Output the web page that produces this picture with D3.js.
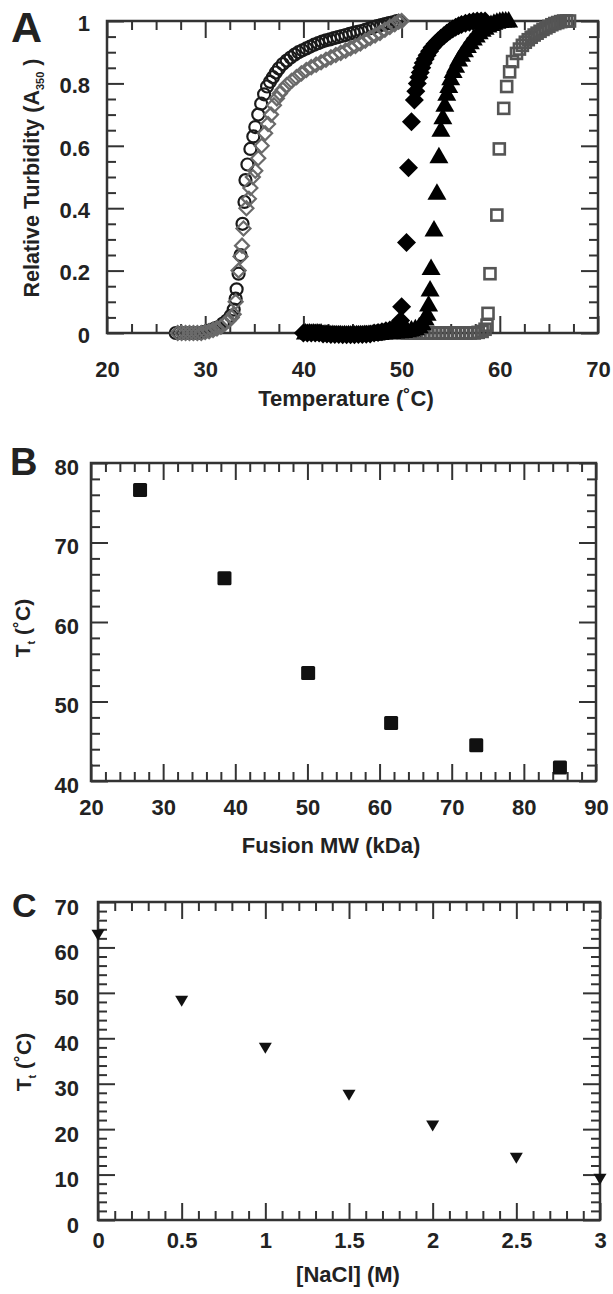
<!DOCTYPE html>
<html><head><meta charset="utf-8">
<script src="https://cdn.jsdelivr.net/npm/d3@7"></script>
<style>
body{margin:0;background:#fff}
svg{display:block;background:#fff}
text{font-family:"Liberation Sans",Arial,Helvetica,sans-serif;font-weight:bold;fill:#222}
</style>
</head><body>
<svg id="chart" width="613" height="1294"></svg>
<script>
// ---------- Panel A data: [temperature °C, relative turbidity] ----------
const openCircles = [[27.0,0],[27.4,0],[27.8,0],[28.2,0],[28.6,0],[29.0,0],[29.4,0],[29.8,0.003],[30.2,0.006],[30.6,0.01],[31.0,0.015],[31.4,0.02],[31.8,0.03],[32.2,0.04],[32.6,0.055],[32.9,0.075],[33.1,0.11],[33.2,0.14],[33.4,0.19],[33.6,0.25],[33.8,0.35],[34.0,0.42],[34.1,0.49],[34.3,0.54],[34.6,0.59],[34.9,0.63],[35.1,0.66],[35.4,0.70],[35.7,0.735],[36.0,0.765],[36.3,0.79],[36.6,0.805],[36.9,0.82],[37.2,0.835],[37.5,0.848],[37.9,0.862],[38.3,0.873],[38.7,0.883],[39.1,0.892],[39.5,0.9],[39.9,0.906],[40.3,0.912],[40.7,0.918],[41.1,0.924],[41.5,0.929],[41.9,0.934],[42.3,0.938],[42.7,0.941],[43.1,0.945],[43.5,0.948],[43.9,0.952],[44.3,0.955],[44.7,0.959],[45.1,0.962],[45.5,0.965],[45.9,0.968],[46.3,0.972],[46.7,0.976],[47.1,0.98],[47.5,0.984],[47.9,0.987],[48.3,0.99],[48.7,0.993],[49.1,0.996],[49.5,1.0],[49.8,1.0]];
const openDiamonds = [[27.2,0],[27.6,0],[28.0,0],[28.4,0],[28.8,0],[29.2,0],[29.6,0],[30.0,0.003],[30.4,0.006],[30.8,0.01],[31.2,0.015],[31.6,0.02],[32.0,0.03],[32.4,0.04],[32.7,0.05],[32.9,0.06],[33.1,0.1],[33.4,0.2],[33.6,0.245],[33.75,0.28],[33.9,0.335],[34.2,0.40],[34.45,0.43],[34.6,0.465],[34.85,0.5],[35.1,0.52],[35.4,0.56],[35.75,0.60],[36.1,0.64],[36.4,0.67],[36.7,0.70],[37.0,0.73],[37.3,0.752],[37.6,0.768],[37.9,0.78],[38.3,0.795],[38.8,0.808],[39.3,0.82],[39.8,0.832],[40.3,0.843],[40.8,0.852],[41.3,0.86],[41.8,0.868],[42.3,0.876],[42.8,0.884],[43.3,0.891],[43.8,0.898],[44.3,0.905],[44.8,0.913],[45.3,0.92],[45.8,0.928],[46.3,0.937],[46.8,0.946],[47.3,0.954],[47.8,0.962],[48.3,0.972],[48.8,0.981],[49.3,0.99],[49.7,0.998],[50.0,1.0]];
const filledDiamonds = [[40.0,0],[40.4,0],[40.8,0],[41.2,0],[41.6,0],[42.0,-0.003],[42.4,-0.003],[42.8,-0.005],[43.2,-0.005],[43.6,-0.005],[44.0,-0.006],[44.4,-0.006],[44.8,-0.006],[45.2,-0.006],[45.6,-0.005],[46.0,-0.005],[46.4,-0.004],[46.8,-0.003],[47.2,0],[47.6,0.002],[48.0,0.004],[48.4,0.007],[48.8,0.01],[49.2,0.015],[49.6,0.025],[49.9,0.04],[50.0,0.084],[50.5,0.29],[50.7,0.53],[51.0,0.677],[51.3,0.747],[51.45,0.775],[51.6,0.80],[51.75,0.82],[51.9,0.835],[52.05,0.85],[52.2,0.865],[52.4,0.878],[52.6,0.89],[52.85,0.903],[53.1,0.915],[53.4,0.926],[53.7,0.936],[54.0,0.945],[54.3,0.953],[54.6,0.961],[54.9,0.968],[55.2,0.974],[55.5,0.98],[55.8,0.985],[56.1,0.989],[56.5,0.993],[56.9,0.996],[57.3,0.998],[57.7,1.0],[58.1,1.0],[58.5,1.0]];
const filledTriangles = [[40.2,0],[40.6,0],[41.0,0],[41.4,0],[41.8,0],[42.2,-0.003],[42.6,-0.004],[43.0,-0.005],[43.4,-0.006],[43.8,-0.006],[44.2,-0.006],[44.6,-0.006],[45.0,-0.006],[45.4,-0.006],[45.8,-0.006],[46.2,-0.005],[46.6,-0.005],[47.0,-0.004],[47.4,-0.003],[47.8,-0.002],[48.2,0],[48.6,0],[49.0,0.002],[49.4,0.003],[49.8,0.004],[50.2,0.005],[50.6,0.007],[51.0,0.01],[51.4,0.014],[51.8,0.02],[52.1,0.03],[52.4,0.045],[52.6,0.06],[52.75,0.09],[52.9,0.138],[53.0,0.207],[53.3,0.33],[53.6,0.448],[53.8,0.565],[54.0,0.65],[54.2,0.69],[54.4,0.73],[54.6,0.765],[54.8,0.79],[55.0,0.815],[55.25,0.838],[55.5,0.855],[55.8,0.875],[56.1,0.89],[56.4,0.905],[56.7,0.918],[57.0,0.93],[57.3,0.942],[57.6,0.952],[57.9,0.962],[58.2,0.97],[58.5,0.977],[58.8,0.984],[59.1,0.989],[59.4,0.993],[59.7,0.996],[60.0,0.998],[60.3,1.0],[60.6,1.0],[60.9,1.0]];
const openSquares = [[50.2,0],[50.6,0],[51.0,0],[51.4,0],[51.8,0],[52.2,0],[52.6,0],[53.0,0],[53.4,0],[53.8,0],[54.2,0],[54.6,0],[55.0,0],[55.4,0],[55.8,0],[56.2,0],[56.6,0],[57.0,0],[57.4,0],[57.8,0.002],[58.2,0.005],[58.5,0.012],[58.7,0.025],[58.8,0.063],[59.0,0.19],[59.7,0.378],[59.95,0.59],[60.4,0.72],[60.7,0.79],[61.0,0.837],[61.3,0.87],[61.7,0.896],[62.0,0.91],[62.3,0.922],[62.6,0.932],[62.9,0.94],[63.2,0.948],[63.5,0.955],[63.8,0.961],[64.1,0.967],[64.4,0.973],[64.7,0.978],[65.0,0.983],[65.3,0.988],[65.6,0.992],[65.9,0.995],[66.2,0.998],[66.5,1.0],[66.8,1.0],[67.1,1.0]];
const aXTicks = [20,30,40,50,60,70];
const aXLabels = ["20","30","40","50","60","70"];
const aYTicks = [0,0.2,0.4,0.6,0.8,1];
const aYLabels = ["0","0.2","0.4","0.6","0.8","1"];

// ---------- Panel B data ----------
const fusionMW = [26.8, 38.5, 50.1, 61.6, 73.4, 85.0];
const ttByMW   = [76.6, 65.5, 53.6, 47.3, 44.5, 41.7];
const bXTicks = [20,30,40,50,60,70,80,90];
const bXLabels = ["20","30","40","50","60","70","80","90"];
const bYTicks = [40,50,60,70,80];
const bYLabels = ["40","50","60","70","80"];

// ---------- Panel C data ----------
const nacl    = [0, 0.5, 1, 1.5, 2, 2.5, 3];
const ttByNaCl = [62.9, 48.4, 38.0, 27.7, 20.9, 13.8, 9.2];
const cXTicks = [0,0.5,1,1.5,2,2.5,3];
const cXLabels = ["0","0.5","1","1.5","2","2.5","3"];
const cYTicks = [0,10,20,30,40,50,60,70];
const cYLabels = ["0","10","20","30","40","50","60","70"];

const svg = d3.select("#chart");
const AXIS = "#333";

function panel(cfg) {
  const W = cfg.right - cfg.left, H = cfg.bottom - cfg.top;
  const g = svg.append("g").attr("transform", `translate(${cfg.left},${cfg.top})`);
  const x = d3.scaleLinear().domain(cfg.xDomain).range([0, W]);
  const y = d3.scaleLinear().domain(cfg.yDomain).range([H, 0]);
  const MAJ = 17, MIN = 9;
  const style = s => s.call(a => a.select(".domain").remove())
      .call(a => a.selectAll("line").attr("stroke", AXIS).attr("stroke-width", 2));
  // minor ticks
  g.append("g").attr("transform", `translate(0,${H})`).call(d3.axisBottom(x).tickValues(cfg.xMinor).tickSize(-MIN).tickFormat("")).call(style);
  g.append("g").call(d3.axisTop(x).tickValues(cfg.xMinor).tickSize(-MIN).tickFormat("")).call(style);
  g.append("g").call(d3.axisLeft(y).tickValues(cfg.yMinor).tickSize(-MIN).tickFormat("")).call(style);
  g.append("g").attr("transform", `translate(${W},0)`).call(d3.axisRight(y).tickValues(cfg.yMinor).tickSize(-MIN).tickFormat("")).call(style);
  // major ticks
  const bx = g.append("g").attr("transform", `translate(0,${H})`)
    .call(d3.axisBottom(x).tickValues(cfg.xTicks).tickSize(-MAJ).tickPadding(cfg.xPad).tickFormat((d,i)=>cfg.xLabels[i])).call(style);
  g.append("g").call(d3.axisTop(x).tickValues(cfg.xTicks).tickSize(-MAJ).tickFormat("")).call(style);
  const ly = g.append("g")
    .call(d3.axisLeft(y).tickValues(cfg.yTicks).tickSize(-MAJ).tickPadding(cfg.yPad).tickFormat((d,i)=>cfg.yLabels[i])).call(style);
  g.append("g").attr("transform", `translate(${W},0)`).call(d3.axisRight(y).tickValues(cfg.yTicks).tickSize(-MAJ).tickFormat("")).call(style);
  bx.selectAll("text").attr("font-size", cfg.fs).attr("fill", "#222");
  ly.selectAll("text").attr("font-size", cfg.fs).attr("fill", "#222").attr("dy", cfg.yDy);
  // frame
  g.append("rect").attr("width", W).attr("height", H).attr("fill", "none").attr("stroke", AXIS).attr("stroke-width", 2.5);
  return {g, x, y, W, H};
}

// ---------------- Panel A ----------------
const A = panel({left:107, right:598, top:21, bottom:333, xDomain:[20,70], yDomain:[0,1],
  xTicks:aXTicks, xLabels:aXLabels, yTicks:aYTicks, yLabels:aYLabels,
  xMinor:d3.range(22.5,70,2.5).filter(v=>v%10!==0),
  yMinor:d3.range(1,20).filter(i=>i%4!==0).map(i=>i/20),
  xPad:28, yPad:17, yDy:"0.42em", fs:22});

A.g.append("g").selectAll("circle").data(openCircles).join("circle")
  .attr("cx", d=>A.x(d[0])).attr("cy", d=>A.y(d[1])).attr("r", 6)
  .attr("fill", "none").attr("stroke", "#1a1a1a").attr("stroke-width", 2.2);
const diamondPath = (cx, cy, s) => `M${cx},${cy-s}L${cx+s},${cy}L${cx},${cy+s}L${cx-s},${cy}Z`;
A.g.append("g").selectAll("path").data(openDiamonds).join("path")
  .attr("d", d=>diamondPath(A.x(d[0]), A.y(d[1]), 7))
  .attr("fill", "none").attr("stroke", "#6a6a6a").attr("stroke-width", 2.2);
A.g.append("g").selectAll("rect").data(openSquares).join("rect")
  .attr("x", d=>A.x(d[0])-5.5).attr("y", d=>A.y(d[1])-5.5).attr("width", 11).attr("height", 11)
  .attr("fill", "none").attr("stroke", "#555").attr("stroke-width", 2.6);
A.g.append("g").selectAll("path").data(filledDiamonds).join("path")
  .attr("d", d=>diamondPath(A.x(d[0]), A.y(d[1]), 9.5)).attr("fill", "#000");
A.g.append("g").selectAll("path").data(filledTriangles).join("path")
  .attr("d", d=>{const cx=A.x(d[0]), cy=A.y(d[1]); return `M${cx},${cy-10}L${cx+9.5},${cy+6.5}L${cx-9.5},${cy+6.5}Z`;})
  .attr("fill", "#000");

svg.append("text").attr("x", 11).attr("y", 42).attr("font-size", 43).text("A");
svg.append("text").attr("x", 346).attr("y", 406).attr("font-size", 22).attr("text-anchor", "middle").text("Temperature (˚C)");
const aYT = svg.append("text").attr("transform", "translate(39,178) rotate(-90)").attr("text-anchor", "middle").attr("font-size", 21.5);
aYT.append("tspan").text("Relative Turbidity (A");
aYT.append("tspan").attr("font-size", 11).attr("dy", 5).text("350");
aYT.append("tspan").attr("dy", -5).text(" )");

// ---------------- Panel B ----------------
const B = panel({left:91, right:596, top:463, bottom:781, xDomain:[20,90], yDomain:[40,80],
  xTicks:bXTicks, xLabels:bXLabels, yTicks:bYTicks, yLabels:bYLabels,
  xMinor:d3.range(22,90,2).filter(v=>v%10!==0), yMinor:d3.range(42,80,2).filter(v=>v%10!==0),
  xPad:18, yPad:12, yDy:"0.5em", fs:22});
B.g.append("g").selectAll("rect").data(fusionMW).join("rect")
  .attr("x", (d,i)=>B.x(d)-7).attr("y", (d,i)=>B.y(ttByMW[i])-7).attr("width", 14).attr("height", 14)
  .attr("rx", 1.5).attr("fill", "#111");
svg.append("text").attr("x", 10).attr("y", 475).attr("font-size", 38).text("B");
svg.append("text").attr("x", 331).attr("y", 853).attr("font-size", 22).attr("text-anchor", "middle").text("Fusion MW (kDa)");
const bYT = svg.append("text").attr("transform", "translate(30,628) rotate(-90)").attr("text-anchor", "middle").attr("font-size", 21);
bYT.append("tspan").text("T");
bYT.append("tspan").attr("font-size", 11).attr("dy", 5).text("t");
bYT.append("tspan").attr("dy", -5).text(" (˚C)");

// ---------------- Panel C ----------------
const C = panel({left:98, right:600, top:902, bottom:1220, xDomain:[0,3], yDomain:[0,70],
  xTicks:cXTicks, xLabels:cXLabels, yTicks:cYTicks, yLabels:cYLabels,
  xMinor:d3.range(1,30).filter(v=>v%5!==0).map(v=>v/10), yMinor:d3.range(2,70,2).filter(v=>v%10!==0),
  xPad:12, yPad:19, yDy:"0.55em", fs:22});
C.g.append("g").selectAll("path").data(nacl).join("path")
  .attr("d", (d,i)=>{const cx=C.x(d), cy=C.y(ttByNaCl[i]); return `M${cx-6.5},${cy-4.5}L${cx+6.5},${cy-4.5}L${cx},${cy+6.5}Z`;})
  .attr("fill", "#111");
svg.append("text").attr("x", 12).attr("y", 917).attr("font-size", 34).text("C");
svg.append("text").attr("x", 348).attr("y", 1282).attr("font-size", 22).attr("text-anchor", "middle").text("[NaCl] (M)");
const cYT = svg.append("text").attr("transform", "translate(31,1062) rotate(-90)").attr("text-anchor", "middle").attr("font-size", 21);
cYT.append("tspan").text("T");
cYT.append("tspan").attr("font-size", 11).attr("dy", 5).text("t");
cYT.append("tspan").attr("dy", -5).text(" (˚C)");
</script>
</body></html>
